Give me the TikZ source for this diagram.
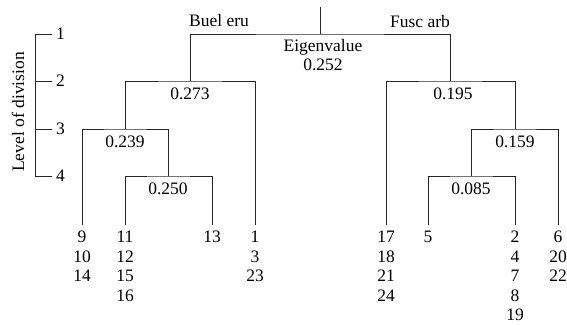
\documentclass[tikz,border=0pt]{standalone}
\usepackage{fontspec}
\setmainfont{Liberation Serif}
\usetikzlibrary{positioning}

\begin{document}
\begin{tikzpicture}[
  x=1pt, y=-1pt,
  txt/.style={font=\rmfamily\fontsize{17.5}{19.5}\selectfont, inner sep=1pt},
  val/.style={txt, align=center},
  leaf/.style={txt, align=center, anchor=north, outer sep=5pt},
  lvl/.style={txt, anchor=west, inner sep=4pt},
  br/.style={draw=black!85, line width=0.9pt}
]
\useasboundingbox (0,0) rectangle (567,324);

% level scale
\node[lvl] (l1) at (52,34) {1};
\node[lvl] (l2) at (52,81) {2};
\node[lvl] (l3) at (52,129) {3};
\node[lvl] (l4) at (52,176) {4};
\node[txt, rotate=90] (lvname) at (18,112) {Level of division};
\draw[br] (l1.west) -- ++(-17,0) |- (l4.west);
\draw[br] (l2.west) -- ++(-17,0);
\draw[br] (l3.west) -- ++(-17,0);

% junctions
\coordinate (top) at (320,7);
\coordinate (j1) at (320,34);
\coordinate (j2L) at (190,81);
\coordinate (j2R) at (450,81);
\coordinate (j3L) at (125,129);
\coordinate (j3R) at (515,129);
\coordinate (j4L) at (168,176);
\coordinate (j4R) at (471,176);

% leaves
\node[leaf] (lf9) at (82,225) {9\\10\\14};
\node[leaf] (lf11) at (125,225) {11\\12\\15\\16};
\node[leaf] (lf13) at (212,225) {13};
\node[leaf] (lf1) at (255,225) {1\\3\\23};
\node[leaf] (lf17) at (386,225) {17\\18\\21\\24};
\node[leaf] (lf5) at (428,225) {5};
\node[leaf] (lf2) at (515,225) {2\\4\\7\\8\\19};
\node[leaf] (lf6) at (558,225) {6\\20\\22};

% branches
\draw[br] (top) -- (j1);
\draw[br] (j2L) |- (j1) -| (j2R);
\draw[br] (j3L) |- (j2L) -| (lf1.north);
\draw[br] (lf17.north) |- (j2R) -| (j3R);
\draw[br] (lf9.north) |- (j3L) -| (j4L);
\draw[br] (j4R) |- (j3R) -| (lf6.north);
\draw[br] (lf11.north) |- (j4L) -| (lf13.north);
\draw[br] (lf5.north) |- (j4R) -| (lf2.north);

% group names and eigenvalues
\node[txt] (buel) at (219,21) {Buel eru};
\node[txt] (fusc) at (420,22) {Fusc arb};
\node[val, below=4pt of j1, xshift=3pt] (eig) {Eigenvalue\\0.252};
\node[val, below=6pt of j2L] (v273) {0.273};
\node[val, below=6pt of j2R, xshift=3pt] (v195) {0.195};
\node[val, below=6pt of j3L] (v239) {0.239};
\node[val, below=6pt of j3R] (v159) {0.159};
\node[val, below=6pt of j4L] (v250) {0.250};
\node[val, below=6pt of j4R] (v085) {0.085};
\end{tikzpicture}
\end{document}
